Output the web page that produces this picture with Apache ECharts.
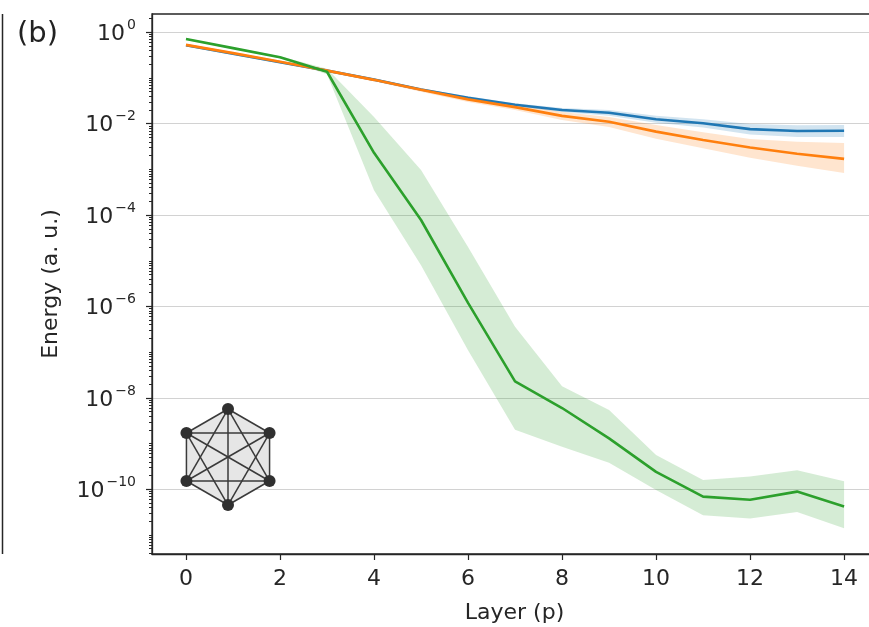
<!DOCTYPE html>
<html><head><meta charset="utf-8">
<script src="https://cdn.jsdelivr.net/npm/echarts@6/dist/echarts.min.js"></script>
<style>html,body{margin:0;padding:0;background:#fff}#c{width:869px;height:627px}</style>
</head><body><div id="c"></div>
<script>
// ---- data ----
const layers = [0,1,2,3,4,5,6,7,8,9,10,11,12,13,14];
const xTickValues = [0,2,4,6,8,10,12,14];
const yTickValues = [1,1e-2,1e-4,1e-6,1e-8,1e-10];

const blueMean = [0.52,0.34,0.22,0.145,0.092,0.056,0.037,0.026,0.020,0.0174,0.0125,0.0102,0.0076,0.0069,0.0070];
const blueLow  = [0.49,0.32,0.21,0.138,0.087,0.053,0.034,0.024,0.018,0.0150,0.0105,0.0083,0.0058,0.0051,0.0051];
const blueHigh = [0.55,0.36,0.23,0.152,0.097,0.059,0.040,0.028,0.022,0.0200,0.0150,0.0125,0.0098,0.0092,0.0094];

const orangeMean = [0.53,0.35,0.227,0.145,0.091,0.055,0.034,0.023,0.0148,0.011,0.0067,0.0044,0.0030,0.0022,0.0017];
const orangeLow  = [0.50,0.33,0.215,0.137,0.085,0.050,0.030,0.020,0.0120,0.0085,0.0047,0.0029,0.0018,0.0012,0.00083];
const orangeHigh = [0.56,0.37,0.24,0.153,0.097,0.060,0.038,0.027,0.018,0.0140,0.0093,0.0065,0.0046,0.0040,0.0038];

const greenMean = [0.71,0.45,0.284,0.137,2.3e-3,7.8e-5,1.2e-6,2.3e-8,6e-9,1.3e-9,2.4e-10,6.9e-11,5.9e-11,8.9e-11,4.2e-11];
const greenLow  = [0.68,0.43,0.27,0.12,3.5e-4,8e-6,1.1e-7,2e-9,8.5e-10,3.8e-10,9.7e-11,2.7e-11,2.3e-11,3.2e-11,1.4e-11];
const greenHigh = [0.74,0.47,0.30,0.16,1.4e-2,9.7e-4,2e-5,3.6e-7,1.8e-8,5.4e-9,5.6e-10,1.6e-10,1.9e-10,2.6e-10,1.5e-10];

// minor log ticks (k * 10^n)
const minorTickValues = [];
for (let n = -12; n <= 0; n++) for (let k = 1; k <= 9; k++) {
  const v = k * Math.pow(10, n);
  if (v > 1e-12 && v < 2.5) minorTickValues.push(v);
}

const FONT = 'DejaVu Sans';
const AXIS_COLOR = '#262626';

function bandSeries(low, high, color, z) {
  return {
    type: 'custom', coordinateSystem: 'cartesian2d', silent: true, z: z,
    data: layers.map((x, i) => [x, low[i], high[i]]),
    encode: { x: 0, y: [1, 2] },
    renderItem: function (params, api) {
      if (params.dataIndex !== 0) return null;
      const top = layers.map((x, i) => api.coord([x, high[i]]));
      const bot = layers.map((x, i) => api.coord([x, low[i]])).reverse();
      return { type: 'polygon', shape: { points: top.concat(bot) }, style: { fill: color } };
    }
  };
}
function lineSeries(mean, color, z) {
  return {
    type: 'line', data: layers.map((x, i) => [x, mean[i]]), symbol: 'none', z: z,
    lineStyle: { color: color, width: 2.6 }, silent: true
  };
}

function supLabel(v) {
  const e = Math.round(Math.log10(v));
  return '{b|10}{s|' + (e < 0 ? '\u2212' + (-e) : String(e)) + '}';
}

// inset hexagon (K6 graph) drawn as decoration
const hc = [228, 457], hr = 48;
const hexPts = [];
for (let i = 0; i < 6; i++) {
  const a = -Math.PI / 2 + i * Math.PI / 3;
  hexPts.push([hc[0] + hr * Math.cos(a), hc[1] + hr * Math.sin(a)]);
}
const insetEls = [{ type: 'polygon', shape: { points: hexPts }, style: { fill: '#e6e6e6', stroke: null }, z: 5 }];
for (let i = 0; i < 6; i++) for (let j = i + 1; j < 6; j++) {
  insetEls.push({ type: 'line', shape: { x1: hexPts[i][0], y1: hexPts[i][1], x2: hexPts[j][0], y2: hexPts[j][1] },
    style: { stroke: '#3a3a3a', lineWidth: 1.5 }, z: 6 });
}
hexPts.forEach(p => insetEls.push({ type: 'circle', shape: { cx: p[0], cy: p[1], r: 6 }, style: { fill: '#303030' }, z: 7 }));

const chart = echarts.init(document.getElementById('c'), null, { renderer: 'canvas' });
chart.setOption({
  animation: false,
  backgroundColor: '#fff',
  grid: { left: 152, top: 14, width: 725, height: 540, show: true, borderColor: AXIS_COLOR, borderWidth: 1.3,
          backgroundColor: 'transparent', outerBoundsMode: 'none', containLabel: false },
  xAxis: {
    type: 'value', min: -0.723, max: 14.7,
    name: 'Layer (p)', nameLocation: 'middle', nameGap: 48,
    nameTextStyle: { fontFamily: FONT, fontSize: 22, color: AXIS_COLOR },
    axisLine: { show: true, onZero: false, lineStyle: { color: AXIS_COLOR, width: 1.3 } },
    axisTick: { show: true, customValues: xTickValues, length: 6, lineStyle: { color: AXIS_COLOR, width: 1.2 } },
    axisLabel: { customValues: xTickValues, fontFamily: FONT, fontSize: 22, color: AXIS_COLOR, margin: 14 },
    splitLine: { show: false }
  },
  yAxis: [{
    type: 'log', min: Math.pow(10, -11.416), max: Math.pow(10, 0.40),
    name: 'Energy (a. u.)', nameLocation: 'middle', nameGap: 90,
    nameTextStyle: { fontFamily: FONT, fontSize: 22, color: AXIS_COLOR },
    axisLine: { show: true, onZero: false, lineStyle: { color: AXIS_COLOR, width: 1.3 } },
    axisTick: { show: true, customValues: yTickValues, length: 6, lineStyle: { color: AXIS_COLOR, width: 1.2 } },
    axisLabel: {
      customValues: yTickValues, margin: 16, formatter: supLabel, color: AXIS_COLOR,
      rich: {
        b: { fontFamily: FONT, fontSize: 22, lineHeight: 28, color: AXIS_COLOR, padding: [4, 0, 0, 0] },
        s: { fontFamily: FONT, fontSize: 14, lineHeight: 14, color: AXIS_COLOR, verticalAlign: 'top', padding: [0, 0, 0, 2] }
      }
    },
    splitLine: { show: true, lineStyle: { color: '#d2d2d2', width: 1.2 } }
  }, {
    type: 'log', min: Math.pow(10, -11.416), max: Math.pow(10, 0.40), position: 'left',
    axisLine: { show: false, onZero: false },
    axisTick: { show: true, customValues: minorTickValues, length: 3, lineStyle: { color: AXIS_COLOR, width: 1 } },
    axisLabel: { show: false },
    splitLine: { show: false }
  }],
  series: [
    bandSeries(blueLow, blueHigh, 'rgba(31,119,180,0.2)', 1),
    bandSeries(orangeLow, orangeHigh, 'rgba(255,127,14,0.2)', 1),
    bandSeries(greenLow, greenHigh, 'rgba(44,160,44,0.2)', 1),
    lineSeries(blueMean, '#1f77b4', 3),
    lineSeries(orangeMean, '#ff7f0e', 3),
    lineSeries(greenMean, '#2ca02c', 3)
  ],
  graphic: [
    { type: 'text', left: 17, top: 20, style: { text: '(b)', fontFamily: FONT, fontSize: 29, fill: '#222' } },
    { type: 'line', shape: { x1: 2.5, y1: 14, x2: 2.5, y2: 554 }, style: { stroke: AXIS_COLOR, lineWidth: 1.5 } },
    { type: 'group', children: insetEls }
  ]
});
</script></body></html>
